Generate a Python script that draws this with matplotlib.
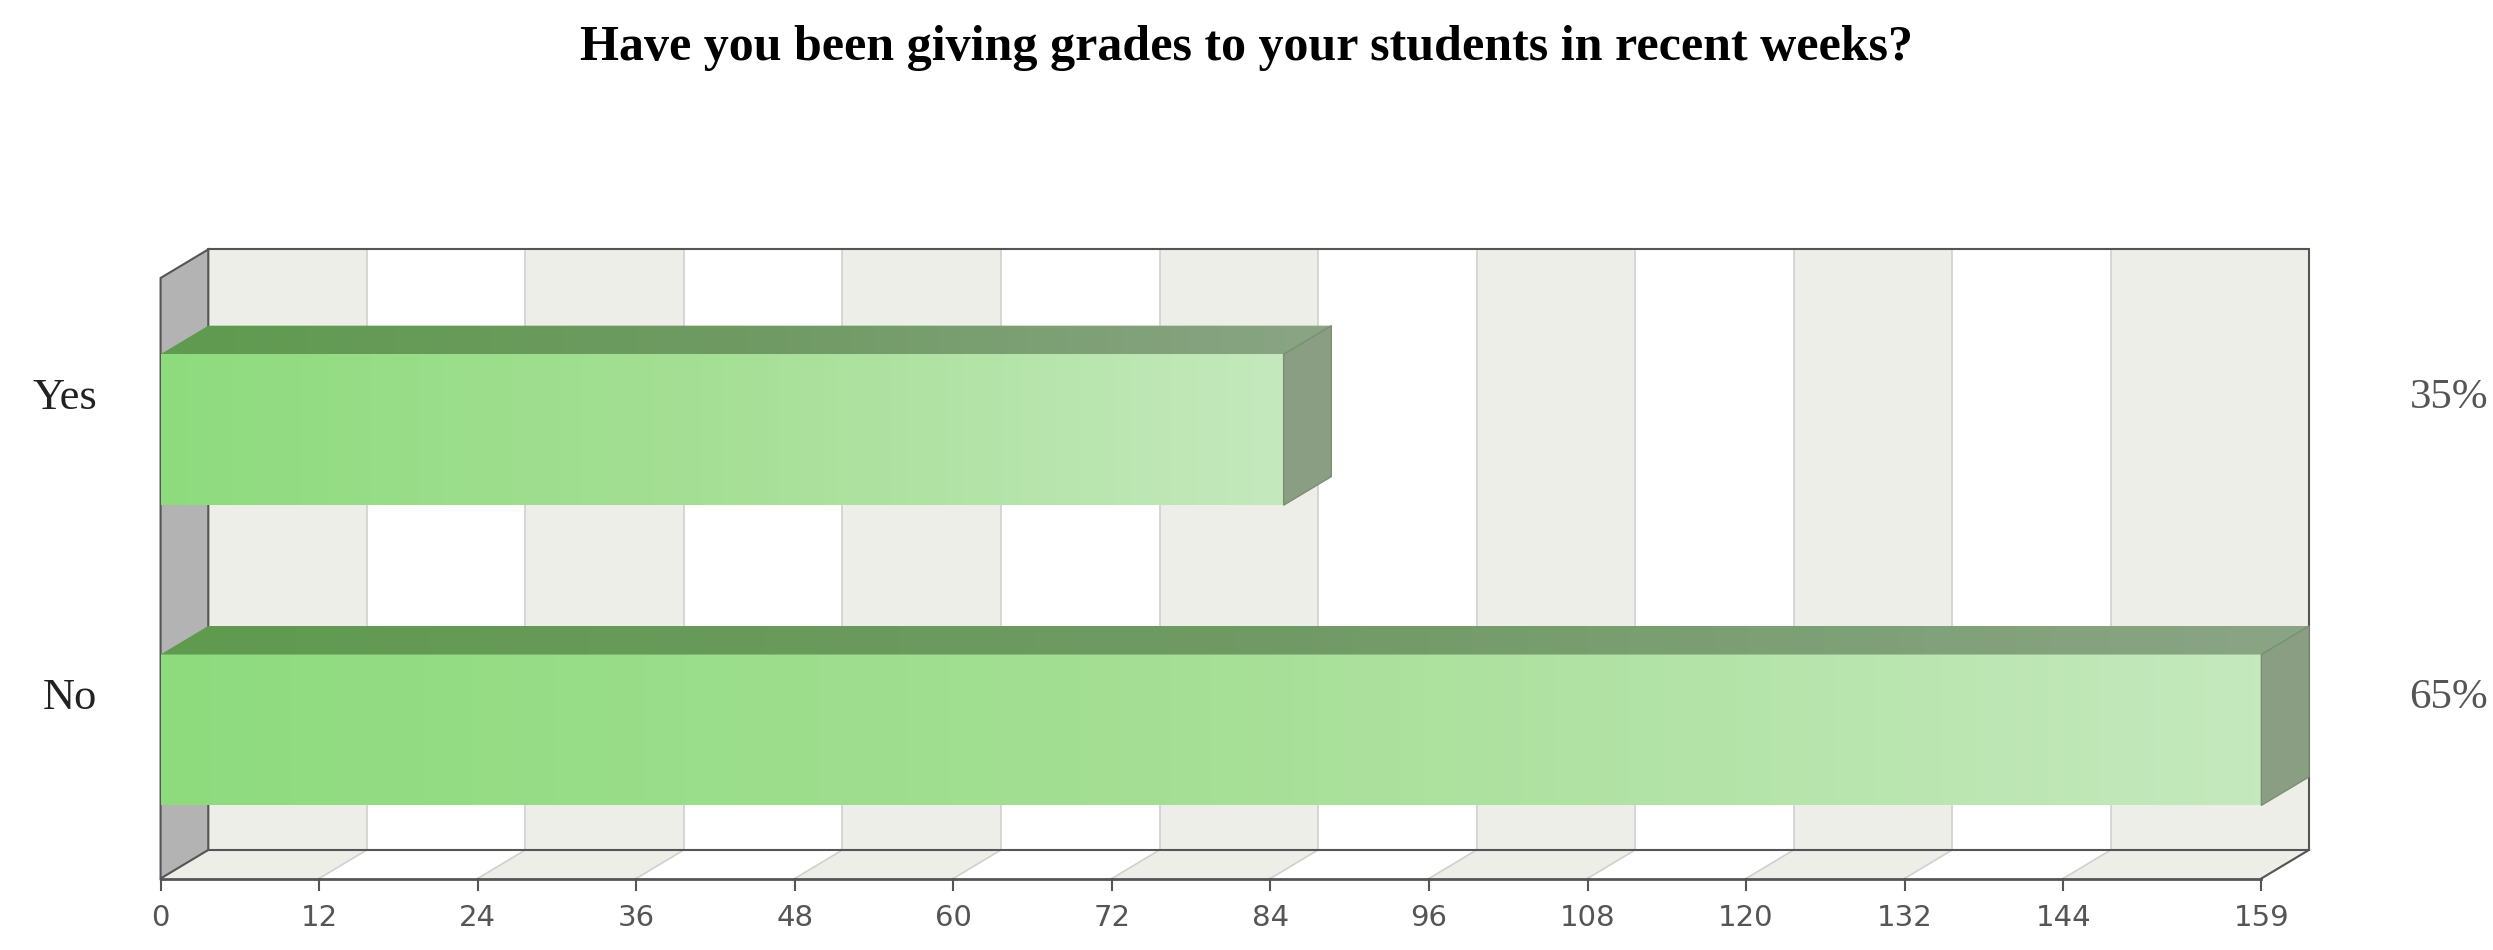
import matplotlib
matplotlib.use("Agg")
import matplotlib.pyplot as plt
import numpy as np
from matplotlib.colors import LinearSegmentedColormap
from matplotlib.patches import Polygon

categories = ["Yes", "No"]
values = [85, 159]
percents = ["35%", "65%"]
ticks = [0, 12, 24, 36, 48, 60, 72, 84, 96, 108, 120, 132, 144, 159]
title = "Have you been giving grades to your students in recent weeks?"

fig = plt.figure(figsize=(24.93, 9.5), dpi=100)
ax = fig.add_axes([0, 0, 1, 1])
ppu = 8.31
ax.set_xlim(-101 / ppu, (1568 - 101) / ppu)
ax.set_ylim(598, 0)
ax.axis("off")

dx = 30 / ppu
dy = 18
ytop, ybot = 157, 535
xmax = 159
edge = "#555555"

for k in range(len(ticks) - 1):
    a, b = ticks[k], ticks[k + 1]
    if k % 2 == 0:
        ax.add_patch(plt.Rectangle((a + dx, ytop), b - a, ybot - ytop, fc="#edeee8", ec="none", zorder=1))
        ax.add_patch(Polygon([(a, ybot + dy), (b, ybot + dy), (b + dx, ybot), (a + dx, ybot)], fc="#edeee8", ec="none", zorder=1))
for t in ticks:
    ax.plot([t + dx, t + dx], [ytop, ybot], color="#d0d0d0", lw=1.2, zorder=1.5)
    ax.plot([t, t + dx], [ybot + dy, ybot], color="#d0d0d0", lw=1.2, zorder=1.5)
    ax.plot([t, t], [ybot + dy, ybot + dy + 7], color=edge, lw=1.5, zorder=3)
    ax.text(t, 578, str(t), ha="center", va="center", fontsize=21, color="#555555", family="DejaVu Sans")
ax.add_patch(plt.Rectangle((dx, ytop), xmax, ybot - ytop, fc="none", ec=edge, lw=1.5, zorder=2))
ax.add_patch(Polygon([(0, ytop + dy), (dx, ytop), (dx, ybot), (0, ybot + dy)], fc="#b3b3b3", ec=edge, lw=1.5, zorder=2))
ax.plot([0, xmax], [ybot + dy, ybot + dy], color=edge, lw=2, zorder=3)
ax.plot([xmax, xmax + dx], [ybot + dy, ybot], color=edge, lw=1.5, zorder=3)

front = LinearSegmentedColormap.from_list("f", ["#8edb7e", "#a6df96", "#c4e9bd"])
topc = LinearSegmentedColormap.from_list("t", ["#5f9a4f", "#6f9a63", "#8aa585"])
grad = np.linspace(0, 1, 256).reshape(1, -1)

bar_tops = [223, 412]
bh = 95
for cat, v, p, y0 in zip(categories, values, percents, bar_tops):
    ax.imshow(grad, cmap=front, extent=[0, v, y0 + bh, y0], aspect="auto", zorder=4)
    im = ax.imshow(grad, cmap=topc, extent=[0, v + dx, y0, y0 - dy], aspect="auto", zorder=4)
    poly = Polygon([(0, y0), (dx, y0 - dy), (v + dx, y0 - dy), (v, y0)], fc="none", ec="none")
    ax.add_patch(poly)
    im.set_clip_path(poly)
    ax.add_patch(Polygon([(v, y0), (v + dx, y0 - dy), (v + dx, y0 + bh - dy), (v, y0 + bh)], fc="#8a9e84", ec="#7a8e74", lw=1, zorder=4))
    ax.text(-40 / ppu, y0 + bh / 2 - 20, cat, ha="right", va="center", fontsize=32, family="Liberation Serif", color="#222222")
    ax.text((1565 - 101) / ppu, y0 + bh / 2 - 20, p, ha="right", va="center", fontsize=31, family="Liberation Serif", color="#555555")

ax.text((784 - 101) / ppu, 30, title, ha="center", va="center", fontsize=36, fontweight="bold", family="Liberation Serif")
fig.savefig("out.png", dpi=100)
